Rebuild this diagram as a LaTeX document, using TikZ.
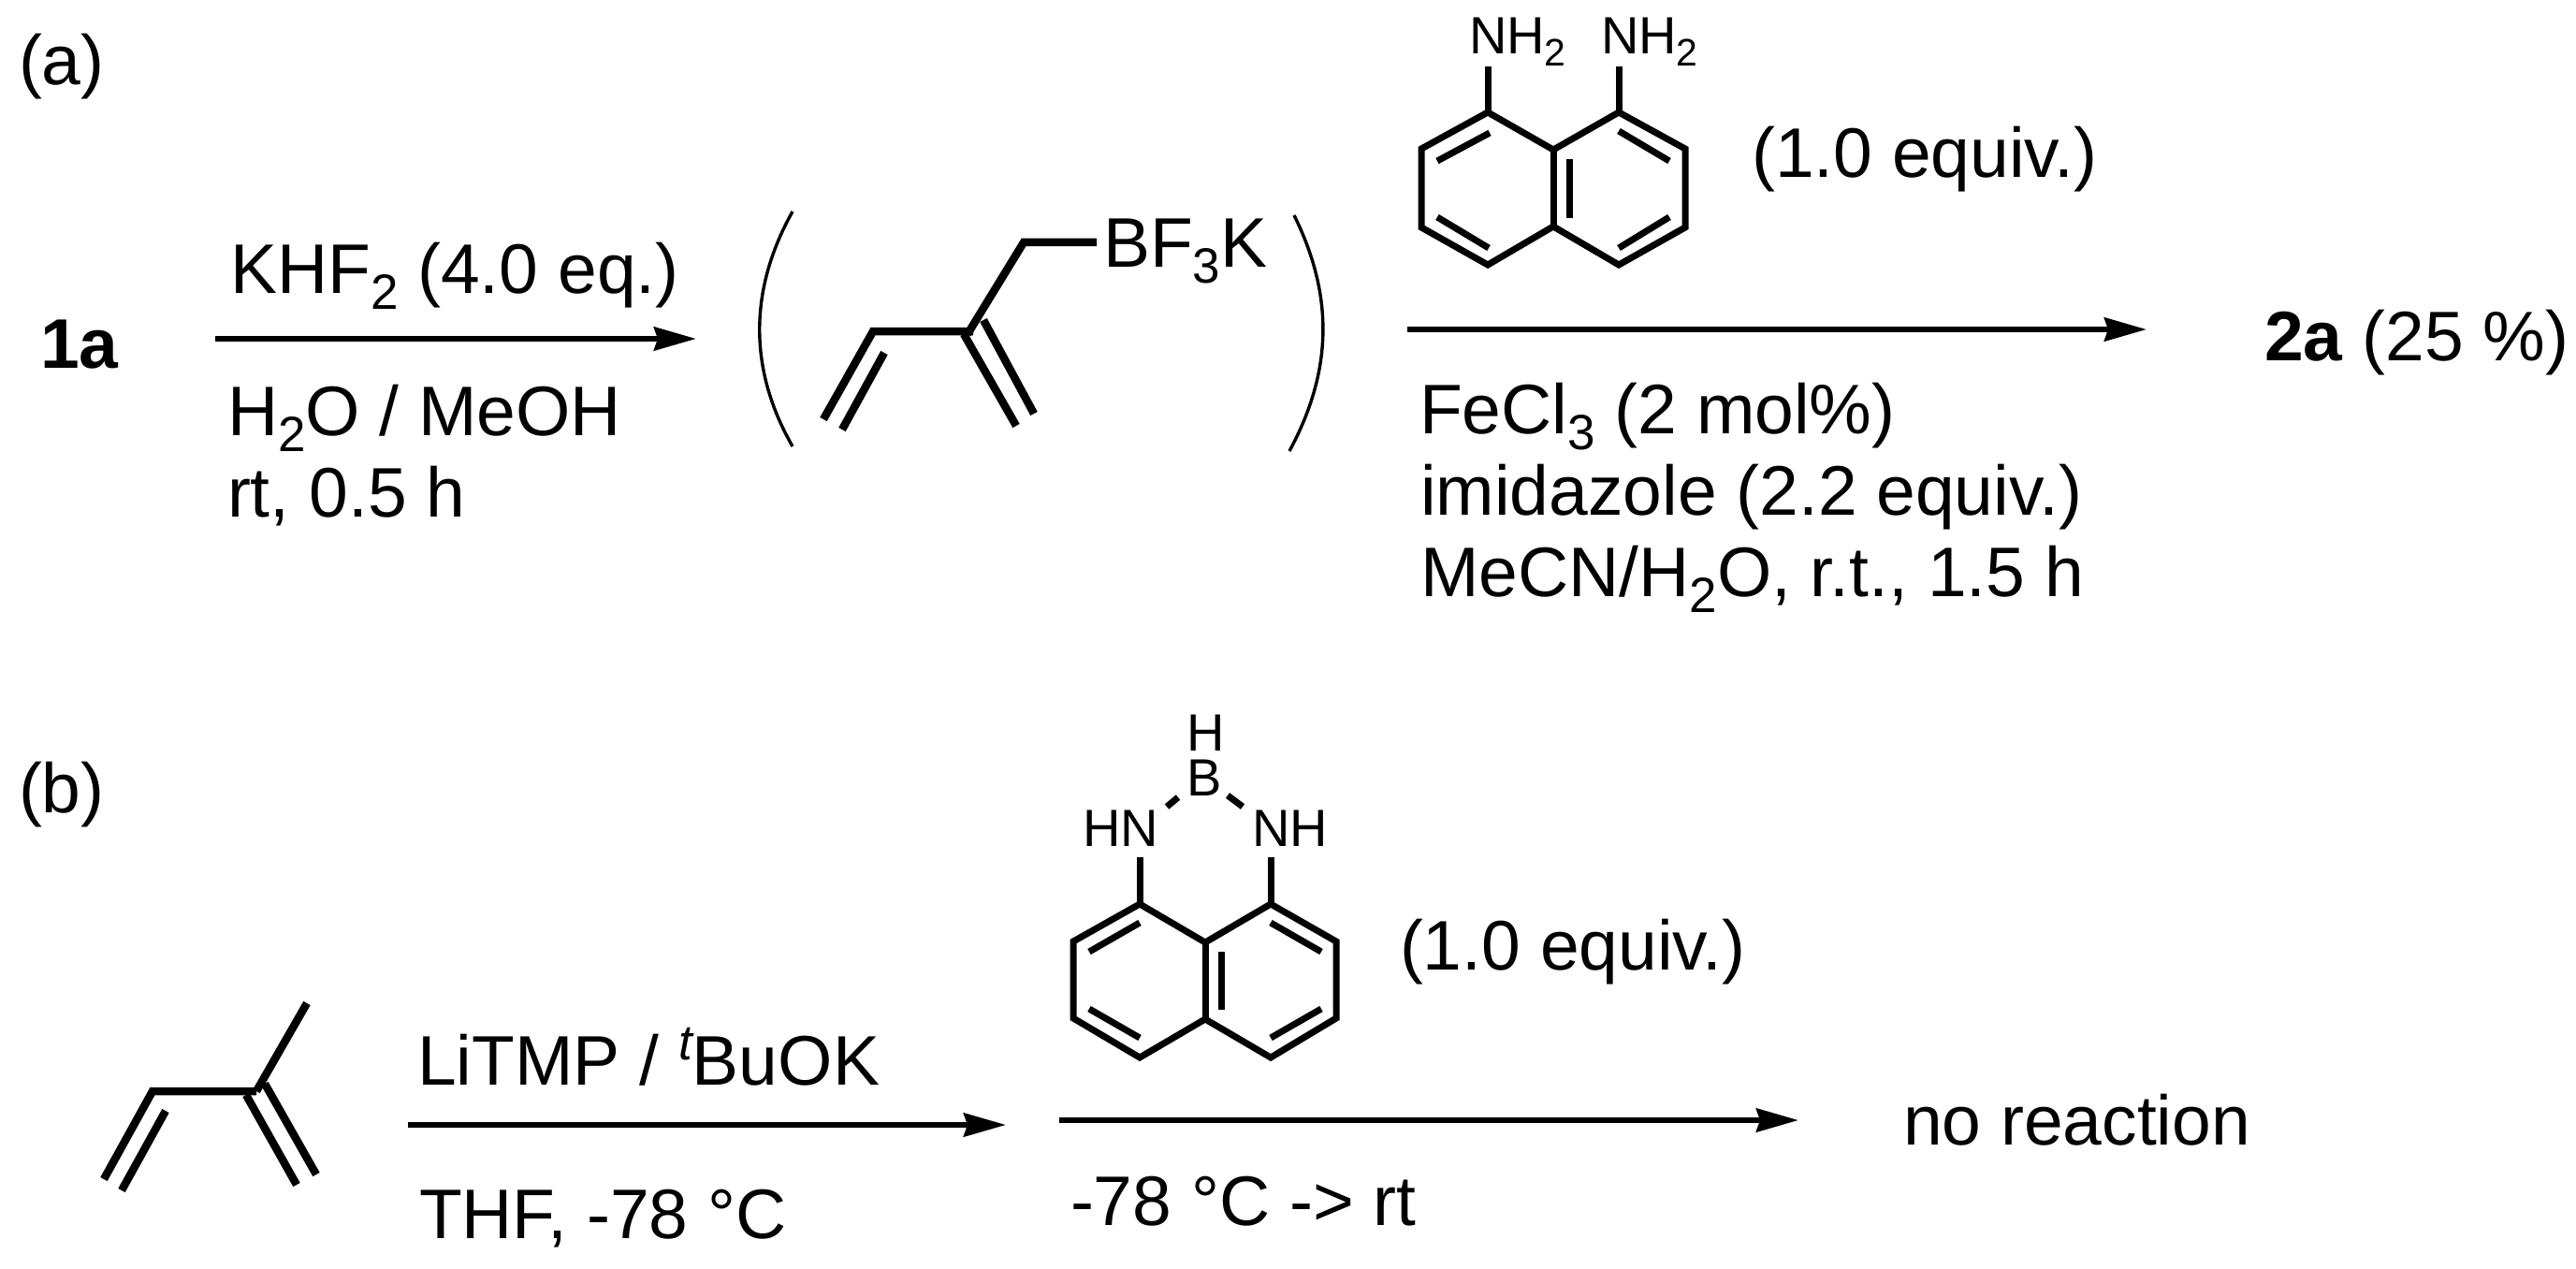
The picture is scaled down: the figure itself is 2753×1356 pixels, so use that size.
\documentclass[tikz,border=0pt]{standalone}
\usepackage{fontspec}
\setmainfont{Liberation Sans}
\usetikzlibrary{arrows.meta}
\newcommand{\subs}[1]{\raisebox{-17pt}{\fontsize{53}{53}\selectfont #1}}
\newcommand{\subn}[1]{\raisebox{-13pt}{\fontsize{41}{41}\selectfont #1}}
\tikzset{
  txt/.style={anchor=base west,inner sep=0pt,outer sep=0pt,font=\fontsize{75}{75}\selectfont},
  lab/.style={anchor=base west,inner sep=0pt,outer sep=0pt,font=\fontsize{56}{56}\selectfont},
  rxn/.style={line width=6pt,-{Stealth[length=45pt,width=25pt,inset=4pt]}},
  ring/.style={line width=7pt,miter limit=10},
  chain/.style={line width=8.5pt},
  paren/.style={line width=3.4pt}
}
\begin{document}
\begin{tikzpicture}[x=1pt,y=-1pt]
\useasboundingbox (0,0) rectangle (2753,1356);
% labels
\node[txt] (la) at (20,91) {(a)};
\node[txt] (lb) at (20,868) {(b)};
% scheme a
\node[txt] (s1a) at (43,393) {\textbf{1a}};
\node[txt] (r1t) at (246,313) {KHF\subs{2} (4.0 eq.)};
\node[txt] (r1b) at (243,465) {H\subs{2}O / MeOH};
\node[txt] (r1c) at (243,552) {rt, 0.5 h};
\coordinate (a1s) at (230,362); \coordinate (a1e) at (744,362);
\draw[rxn] (a1s) -- (a1e);
% BF3K intermediate
\draw[paren] (847,226) .. controls (800,310) and (800,395) .. (847,477);
\draw[paren] (1383,230) .. controls (1425,315) and (1425,395) .. (1378,482);
\draw[chain] (880,448) -- (933,354) -- (1040,354);
\draw[chain] (900,459) -- (945,377);
\draw[chain] (1030,357) -- (1086,455);
\draw[chain] (1051,342) -- (1105,442);
\draw[chain] (1034,357) -- (1094,259) -- (1172,259);
\node[txt] (bf) at (1179,286) {BF\subs{3}K};
% diamine
\draw[ring] (1590,120) -- (1660,160) -- (1730,120) -- (1801,159) -- (1801,243) -- (1730,283) -- (1660,242) -- (1590,283) -- (1519,243) -- (1519,159) -- cycle;
\draw[ring] (1660,160) -- (1660,242);
\draw[ring] (1592,142) -- (1536,172);
\draw[ring] (1730,140) -- (1784,172);
\draw[ring] (1677,170) -- (1677,233);
\draw[ring] (1536,232) -- (1591,265);
\draw[ring] (1784,232) -- (1730,265);
\draw[ring] (1590,120) -- (1590,71);
\draw[ring] (1730,120) -- (1730,71);
\node[lab] (nh1) at (1570,58) {NH\subn{2}};
\node[lab] (nh2) at (1711,58) {NH\subn{2}};
\node[txt] (eq1) at (1872,190) {(1.0 equiv.)};
\coordinate (a2s) at (1504,352); \coordinate (a2e) at (2294,352);
\draw[rxn] (a2s) -- (a2e);
\node[txt] (c1) at (1517,463) {FeCl\subs{3} (2 mol\%)};
\node[txt] (c2) at (1518,550) {imidazole (2.2 equiv.)};
\node[txt] (c3) at (1518,637) {MeCN/H\subs{2}O, r.t., 1.5 h};
\node[txt] (p2a) at (2420,385) {\textbf{2a} (25 \%)};
% scheme b: isoprene
\draw[chain] (111,1260) -- (163,1166) -- (274,1166);
\draw[chain] (130,1272) -- (177,1187);
\draw[chain] (263,1170) -- (317,1266);
\draw[chain] (283,1158) -- (338,1255);
\draw[chain] (274,1166) -- (328,1072);
\node[txt] (r3t) at (446,1159) {LiTMP / \raisebox{27pt}{\fontsize{53}{53}\selectfont\itshape t}BuOK};
\node[txt] (r3b) at (448,1323) {THF, -78 °C};
\coordinate (a3s) at (436,1202); \coordinate (a3e) at (1075,1202);
\draw[rxn] (a3s) -- (a3e);
% DAN-BH
\draw[ring] (1218,966) -- (1288,1007) -- (1358,966) -- (1428,1006) -- (1428,1088) -- (1358,1130) -- (1288,1089) -- (1218,1130) -- (1147,1088) -- (1147,1006) -- cycle;
\draw[ring] (1288,1007) -- (1288,1089);
\draw[ring] (1218,986) -- (1164,1017);
\draw[ring] (1358,986) -- (1412,1017);
\draw[ring] (1305,1017) -- (1305,1079);
\draw[ring] (1164,1078) -- (1218,1109);
\draw[ring] (1412,1078) -- (1358,1109);
\draw[ring] (1218,916) -- (1218,966);
\draw[ring] (1358,916) -- (1358,966);
\draw[ring] (1247,862) -- (1259,852);
\draw[ring] (1312,850) -- (1328,862);
\node[lab] (hn) at (1157,904) {HN};
\node[lab] (nh) at (1338,904) {NH};
\node[lab] (bor) at (1268,850) {B};
\node[lab] (hyd) at (1268,802) {H};
\node[txt] (eq2) at (1496,1036) {(1.0 equiv.)};
\coordinate (a4s) at (1132,1197); \coordinate (a4e) at (1922,1197);
\draw[rxn] (a4s) -- (a4e);
\node[txt] (r4b) at (1144,1309) {-78 °C -> rt};
\node[txt] (nr) at (2034,1223) {no reaction};
\end{tikzpicture}
\end{document}
